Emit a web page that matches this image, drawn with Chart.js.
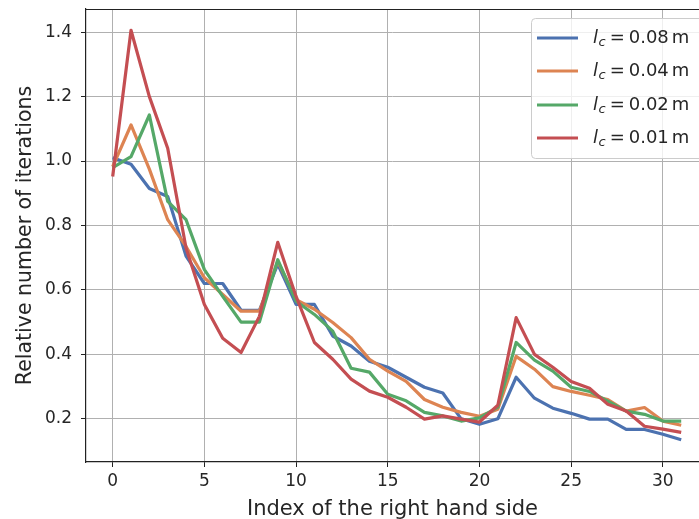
<!DOCTYPE html>
<html>
<head>
<meta charset="utf-8">
<script src="https://cdn.jsdelivr.net/npm/chart.js@4.4.0/dist/chart.umd.min.js"></script>
<style>
html, body { margin: 0; padding: 0; background: #fff; overflow: hidden; }
</style>
</head>
<body>
<canvas id="chart" width="699" height="519"></canvas>
<script>
// index of the right hand side
const indices = [0, 1, 2, 3, 4, 5, 6, 7, 8, 9, 10, 11, 12, 13, 14, 15,
                 16, 17, 18, 19, 20, 21, 22, 23, 24, 25, 26, 27, 28, 29, 30, 31];

// relative number of iterations, one list per l_c
const iterLc008 = [1.01, 0.99, 0.915, 0.89, 0.705, 0.62, 0.62, 0.537, 0.537, 0.68, 0.555, 0.555, 0.457, 0.426, 0.379, 0.36,
                   0.329, 0.298, 0.28, 0.2, 0.183, 0.2, 0.329, 0.264, 0.233, 0.217, 0.199, 0.199, 0.167, 0.167, 0.152, 0.135];
const iterLc004 = [0.983, 1.112, 0.975, 0.818, 0.735, 0.638, 0.586, 0.534, 0.534, 0.689, 0.57, 0.54, 0.499, 0.452, 0.385, 0.348,
                   0.316, 0.26, 0.236, 0.22, 0.208, 0.23, 0.394, 0.354, 0.3, 0.285, 0.273, 0.26, 0.224, 0.235, 0.193, 0.18];
const iterLc002 = [0.98, 1.014, 1.143, 0.875, 0.818, 0.663, 0.58, 0.5, 0.5, 0.694, 0.565, 0.524, 0.472, 0.357, 0.345, 0.276,
                   0.256, 0.22, 0.209, 0.193, 0.203, 0.236, 0.437, 0.382, 0.348, 0.298, 0.285, 0.255, 0.224, 0.214, 0.193, 0.193];
const iterLc001 = [0.952, 1.406, 1.2, 1.04, 0.73, 0.555, 0.45, 0.406, 0.518, 0.748, 0.58, 0.437, 0.385, 0.323, 0.286, 0.267,
                   0.236, 0.199, 0.209, 0.199, 0.19, 0.242, 0.514, 0.4, 0.36, 0.316, 0.295, 0.245, 0.224, 0.177, 0.168, 0.158];

const lcValues = ["0.08", "0.04", "0.02", "0.01"];
const couleurs = ["#4c72b0", "#dd8452", "#55a868", "#c44e52"];

const xTicks = [0, 5, 10, 15, 20, 25, 30];
const yTicks = [0.2, 0.4, 0.6, 0.8, 1.0, 1.2, 1.4];

const police = "'DejaVu Sans', 'Liberation Sans', sans-serif";

function serie(values, i){
    return {
        label: "lc = " + lcValues[i] + " m",
        data: indices.map(function(x, k){ return {x: x, y: values[k]}; }),
        borderColor: couleurs[i],
        backgroundColor: couleurs[i],
        borderWidth: 3.2,
        pointRadius: 0,
        tension: 0,
        fill: false,
        borderJoinStyle: "round",
        order: 3 - i,
    };
}

// matplotlib style frame line on top
const cadreHaut = {
    id: "cadreHaut",
    afterDraw(chart){
        const ctx = chart.ctx;
        const a = chart.chartArea;
        ctx.save();
        ctx.strokeStyle = "#222";
        ctx.lineWidth = 1.2;
        ctx.beginPath();
        ctx.moveTo(a.left, a.top + 0.5);
        ctx.lineTo(a.right, a.top + 0.5);
        ctx.stroke();
        ctx.restore();
    }
};

// legend with l_c written as italic l and subscript c
const legendeLc = {
    id: "legendeLc",
    afterDraw(chart){
        const ctx = chart.ctx;
        const a = chart.chartArea;
        const x0 = a.right - 168, y0 = a.top + 9, w = 176, h = 140;
        ctx.save();
        ctx.fillStyle = "rgba(255,255,255,0.8)";
        ctx.strokeStyle = "#cccccc";
        ctx.lineWidth = 1;
        ctx.beginPath();
        ctx.roundRect(x0 + 0.5, y0 + 0.5, w, h, 4);
        ctx.fill();
        ctx.stroke();

        const rows = [29, 62, 96, 129];
        for (let i = 0; i < lcValues.length; i++){
            const y = a.top + rows[i];
            ctx.strokeStyle = couleurs[i];
            ctx.lineWidth = 3.2;
            ctx.beginPath();
            ctx.moveTo(x0 + 6, y);
            ctx.lineTo(x0 + 47, y);
            ctx.stroke();

            ctx.fillStyle = "#262626";
            ctx.textBaseline = "middle";
            let x = x0 + 62;
            ctx.font = "italic 18px " + police;
            ctx.fillText("l", x, y);
            x += ctx.measureText("l").width + 0.5;
            ctx.font = "italic 13px " + police;
            ctx.fillText("c", x, y + 5);
            x += ctx.measureText("c").width + 4;
            ctx.font = "18px " + police;
            ctx.fillText("=", x, y);
            x += ctx.measureText("=").width + 4;
            ctx.fillText(lcValues[i], x, y);
            x += ctx.measureText(lcValues[i]).width + 3;
            ctx.fillText("m", x, y);
        }
        ctx.restore();
    }
};

let canv = document.getElementById("chart");
let latestChart = new Chart(canv, {
    type: "line",
    data: {
        datasets: [
            serie(iterLc008, 0),
            serie(iterLc004, 1),
            serie(iterLc002, 2),
            serie(iterLc001, 3),
        ],
    },
    options: {
        responsive: false,
        animation: false,
        devicePixelRatio: 1,
        layout: { padding: { top: 9, right: 0, left: 0, bottom: 0 } },
        plugins: {
            legend: { display: false },
            tooltip: { enabled: false },
        },
        scales: {
            x: {
                type: "linear",
                min: -1.455,
                max: 31.97,
                afterBuildTicks: function(scale){
                    scale.ticks = xTicks.map(function(v){ return {value: v}; });
                },
                afterFit: function(scale){
                    scale.height = 57;
                    scale.paddingLeft = 0;
                    scale.paddingRight = 0;
                },
                grid: { color: "#b0b0b0", lineWidth: 1, tickLength: 5, tickColor: "#222", drawTicks: true },
                border: { display: true, color: "#222", width: 1.2 },
                ticks: {
                    color: "#262626",
                    padding: 4,
                    maxRotation: 0,
                    font: { family: police, size: 17 },
                    callback: function(v){ return String(v); },
                },
                title: {
                    display: true,
                    text: "Index of the right hand side",
                    color: "#262626",
                    font: { family: police, size: 21, lineHeight: 1.0 },
                    padding: { top: 0, bottom: -1 },
                },
            },
            y: {
                type: "linear",
                min: 0.066,
                max: 1.472,
                afterBuildTicks: function(scale){
                    scale.ticks = yTicks.map(function(v){ return {value: v}; });
                },
                afterFit: function(scale){
                    scale.width = 86;
                    scale.paddingTop = 0;
                    scale.paddingBottom = 0;
                },
                grid: { color: "#b0b0b0", lineWidth: 1, tickLength: 5, tickColor: "#222", drawTicks: true },
                border: { display: true, color: "#222", width: 1.2 },
                ticks: {
                    color: "#262626",
                    padding: 9,
                    font: { family: police, size: 17 },
                    callback: function(v){ return v.toFixed(1); },
                },
                title: {
                    display: true,
                    text: "Relative number of iterations",
                    color: "#262626",
                    font: { family: police, size: 20.5, lineHeight: 1.2 },
                    padding: { top: 13, bottom: 0 },
                },
            },
        },
    },
    plugins: [cadreHaut, legendeLc],
});
</script>
</body>
</html>
